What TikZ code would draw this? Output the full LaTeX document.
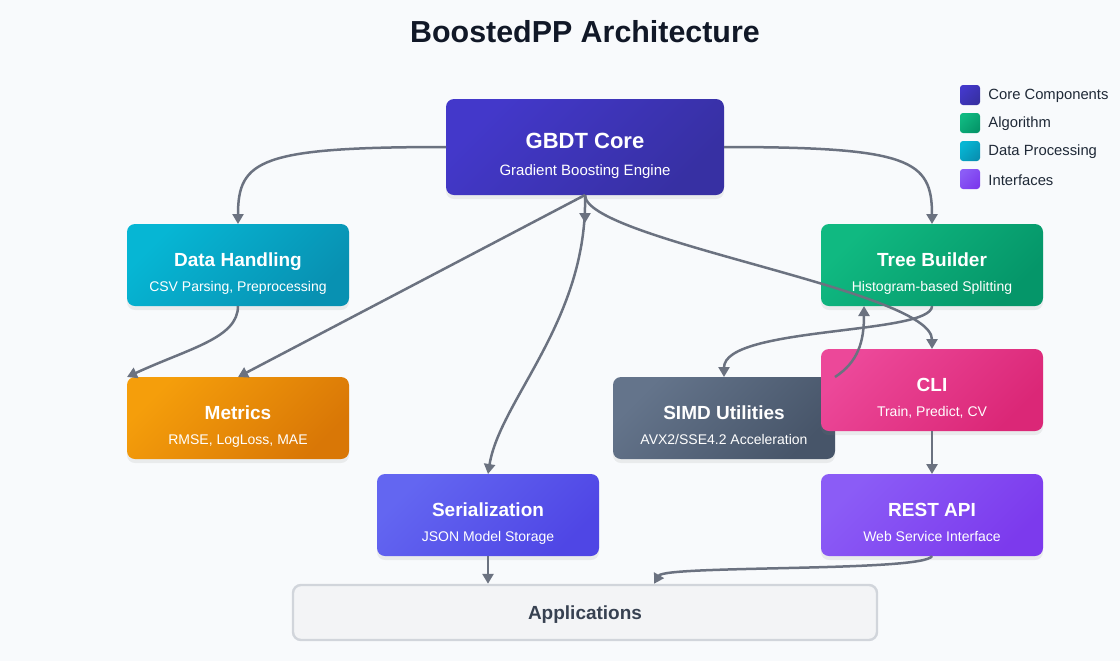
\documentclass[tikz,border=0pt]{standalone}
\usepackage{fontspec}
\setmainfont{Liberation Sans}
\usetikzlibrary{arrows.meta,shadows,calc}
\definecolor{bg}{HTML}{F8FAFC}
\definecolor{edgegray}{HTML}{6B7280}
\definecolor{coreA}{HTML}{4338CA}\definecolor{coreB}{HTML}{3730A3}
\definecolor{dataA}{HTML}{06B6D4}\definecolor{dataB}{HTML}{0891B2}
\definecolor{treeA}{HTML}{10B981}\definecolor{treeB}{HTML}{059669}
\definecolor{metA}{HTML}{F59E0B}\definecolor{metB}{HTML}{D97706}
\definecolor{simdA}{HTML}{64748B}\definecolor{simdB}{HTML}{475569}
\definecolor{cliA}{HTML}{EC4899}\definecolor{cliB}{HTML}{DB2777}
\definecolor{serA}{HTML}{6366F1}\definecolor{serB}{HTML}{4F46E5}
\definecolor{restA}{HTML}{8B5CF6}\definecolor{restB}{HTML}{7C3AED}
\definecolor{appfill}{HTML}{F3F4F6}\definecolor{appdraw}{HTML}{D1D5DB}
\definecolor{titlecol}{HTML}{111827}\definecolor{legtext}{HTML}{1F2937}
\definecolor{apptext}{HTML}{374151}
\begin{document}
\begin{tikzpicture}[x=0.5pt,y=-0.5pt,
  box/.style={rounded corners=4pt, minimum width=111pt, minimum height=41pt, inner sep=0pt, outer sep=0pt, draw=none,
    drop shadow={shadow xshift=0pt, shadow yshift=-2pt, opacity=0.12}},
  grad/.style 2 args={top color=#1, bottom color=#2, shading angle=45},
  btitle/.style={anchor=base, text=white, font=\fontsize{9.5}{11}\selectfont\bfseries, inner sep=0pt},
  bsub/.style={anchor=base, text=white, font=\fontsize{7}{8}\selectfont, inner sep=0pt},
  conn/.style={draw=edgegray, line width=1.25pt, -{Triangle[length=5pt,width=5.5pt]}},
  legbox/.style={rounded corners=1.5pt, minimum size=10pt, inner sep=0pt, outer sep=0pt},
  legtxt/.style={anchor=west, text=legtext, font=\fontsize{7.4}{8.5}\selectfont, inner sep=0pt}
]
\fill[bg] (0,0) rectangle (1120,661);
\useasboundingbox (0,0) rectangle (1120,661);

% title
\node[anchor=base, text=titlecol, font=\fontsize{15.2}{18}\selectfont\bfseries, inner sep=0pt] (title) at (585,42) {BoostedPP Architecture};

% boxes
\node[box, grad={coreA}{coreB}, minimum width=139pt, minimum height=48pt] (gbdt) at (585,147) {};
\node[box, grad={dataA}{dataB}] (data) at (238,265) {};
\node[box, grad={treeA}{treeB}] (tree) at (932,265) {};
\node[box, grad={metA}{metB}] (metrics) at (238,418) {};
\node[box, grad={simdA}{simdB}] (simd) at (724,418) {};
\node[box, grad={cliA}{cliB}] (cli) at (932,390) {};
\node[box, grad={serA}{serB}] (serial) at (488,515) {};
\node[box, grad={restA}{restB}] (rest) at (932,515) {};
\node[rounded corners=4pt, minimum width=292pt, minimum height=27.5pt, fill=appfill, draw=appdraw, line width=1.2pt] (apps) at (585,612.5) {};

% texts
\node[btitle, font=\fontsize{11}{13}\selectfont\bfseries] (gbdtT) at (585,148) {GBDT Core};
\node[bsub, font=\fontsize{7.5}{9}\selectfont] (gbdtS) at (585,175) {Gradient Boosting Engine};
\node[btitle] (dataT) at (238,266) {Data Handling};
\node[bsub] (dataS) at (238,291) {CSV Parsing, Preprocessing};
\node[btitle] (treeT) at (932,266) {Tree Builder};
\node[bsub] (treeS) at (932,291) {Histogram-based Splitting};
\node[btitle] (metT) at (238,419) {Metrics};
\node[bsub] (metS) at (238,444) {RMSE, LogLoss, MAE};
\node[btitle] (simdT) at (724,419) {SIMD Utilities};
\node[bsub] (simdS) at (724,444) {AVX2/SSE4.2 Acceleration};
\node[btitle] (cliT) at (932,391) {CLI};
\node[bsub] (cliS) at (932,416) {Train, Predict, CV};
\node[btitle] (serT) at (488,516) {Serialization};
\node[bsub] (serS) at (488,541) {JSON Model Storage};
\node[btitle] (restT) at (932,516) {REST API};
\node[bsub] (restS) at (932,541) {Web Service Interface};
\node[anchor=base, text=apptext, font=\fontsize{9.5}{11}\selectfont\bfseries, inner sep=0pt] (appsT) at (585,619) {Applications};

% legend
\node[legbox, grad={coreA}{coreB}] (lg1) at (970,95) {};
\node[legtxt] (lt1) at (988,96) {Core Components};
\node[legbox, grad={treeA}{treeB}] (lg2) at (970,123) {};
\node[legtxt] (lt2) at (988,124) {Algorithm};
\node[legbox, grad={dataA}{dataB}] (lg3) at (970,151) {};
\node[legtxt] (lt3) at (988,152) {Data Processing};
\node[legbox, grad={restA}{restB}] (lg4) at (970,179) {};
\node[legtxt] (lt4) at (988,180) {Interfaces};

% connectors
\coordinate (gsplit) at ($(gbdt.south)+(0,28)$);
\coordinate (treein) at ($(tree.south west)+(43,0)$);
\coordinate (appin) at ($(apps.north)+(69,0)$);
\draw[conn] (gbdt.west) .. controls (260,147) and (238,160) .. (data.north);
\draw[conn] (gbdt.east) .. controls (910,147) and (932,160) .. (tree.north);
\draw[conn] (data.south) .. controls (238,338) and (190,348) .. (metrics.north west);
\draw[conn] (gbdt.south) -- (metrics.north);
\draw[conn] (gbdt.south) .. controls (588,320) and (500,400) .. (serial.north);
\draw[conn] (gbdt.south) -- (gsplit);
\draw[conn] (gbdt.south) .. controls (585,240) and (932,290) .. (cli.north);
\draw[conn] (tree.south) .. controls (932,335) and (724,326) .. (simd.north);
\draw[conn] (simd.north east) .. controls (858,362) and (864,342) .. (treein);
\draw[conn] (cli.south) -- (rest.north);
\draw[conn] (serial.south) -- (serial.south |- apps.north);
\draw[conn] (rest.south) .. controls (925,572) and (665,565) .. (appin);
\end{tikzpicture}
\end{document}
